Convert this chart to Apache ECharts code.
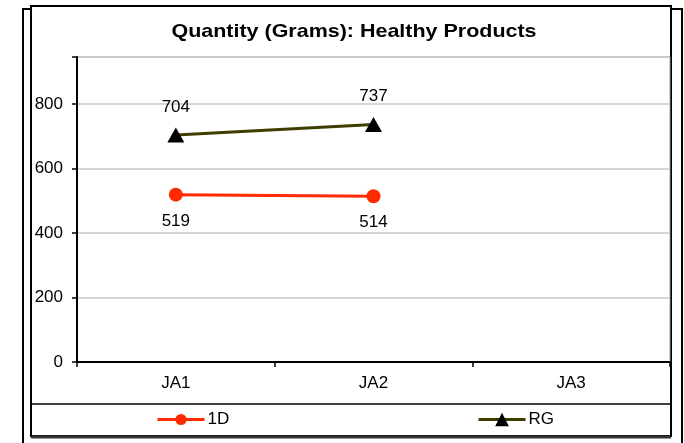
<!DOCTYPE html>
<html><head><meta charset="utf-8">
<script src="https://cdn.jsdelivr.net/npm/echarts@6/dist/echarts.min.js"></script>
<style>html,body{margin:0;padding:0;background:#fff}#c{width:684px;height:443px}</style>
</head><body><div id="c"></div>
<script>
var categories = ['JA1', 'JA2', 'JA3'];
var series1D = [519, 514, null];
var seriesRG = [704, 737, null];
var yTicks = [0, 200, 400, 600, 800];
var titleText = 'Quantity (Grams): Healthy Products';

var FONT = '"Liberation Sans", Arial, sans-serif';
var chart = echarts.init(document.getElementById('c'), null, {renderer: 'canvas'});
chart.setOption({
  animation: false,
  backgroundColor: '#fff',
  graphic: [
    {type: 'rect', z: -20, shape: {x: 23, y: 9, width: 659, height: 460}, style: {fill: '#fff', stroke: '#000', lineWidth: 2}},
    {type: 'rect', z: -10, shape: {x: 31, y: 6, width: 640, height: 430}, style: {fill: '#fff', stroke: '#000', lineWidth: 2}},
    {type: 'line', z: -5, shape: {x1: 31, y1: 404, x2: 671, y2: 404}, style: {stroke: '#000', lineWidth: 1.5}},
    {type: 'line', z: -5, shape: {x1: 31, y1: 437, x2: 671, y2: 437}, style: {stroke: '#333', lineWidth: 3}},
    {type: 'text', x: 354, y: 32, scaleX: 1.13, z: 10,
     style: {text: titleText, font: 'bold 19px "Liberation Sans", Arial, sans-serif', fill: '#000',
             textAlign: 'center', textVerticalAlign: 'middle'}}
  ],
  legend: [
    {data: ['1D'], left: 156, top: 411, padding: 0, itemWidth: 47, itemHeight: 14, itemGap: 0,
     lineStyle: {width: 3},
     textStyle: {fontFamily: FONT, fontSize: 17, color: '#000', padding: [0, 0, 0, -2]}},
    {data: ['RG'], left: 477, top: 411, padding: 0, itemWidth: 47, itemHeight: 17, itemGap: 0,
     lineStyle: {width: 3},
     textStyle: {fontFamily: FONT, fontSize: 17, color: '#000', padding: [0, 0, 0, -2]}}
  ],
  grid: {left: 77, right: 14, top: 57, bottom: 81, show: true, borderColor: '#a0a0a0', borderWidth: 1, backgroundColor: 'transparent'},
  xAxis: {
    type: 'category', data: categories, boundaryGap: true,
    axisLine: {lineStyle: {color: '#000', width: 2}},
    axisTick: {show: true, length: 5, lineStyle: {color: '#000', width: 1.5}},
    axisLabel: {fontFamily: FONT, fontSize: 17, color: '#000', margin: 13},
    splitLine: {show: false}
  },
  yAxis: {
    type: 'value', min: 0, max: 946, interval: 200,
    axisLine: {show: true, lineStyle: {color: '#000', width: 2}},
    axisTick: {show: true, length: 5, lineStyle: {color: '#000', width: 1.5}},
    axisLabel: {fontFamily: FONT, fontSize: 17, color: '#000', margin: 14,
      formatter: function (v) { return yTicks.indexOf(v) >= 0 ? String(v) : ''; }},
    splitLine: {show: true, lineStyle: {color: '#c8c8c8', width: 1.5}}
  },
  series: [
    {name: '1D', type: 'line', data: series1D, symbol: 'circle', symbolSize: 14,
     color: '#ff2a00', lineStyle: {color: '#ff2a00', width: 3}, itemStyle: {color: '#ff2a00'},
     label: {show: true, position: 'bottom', distance: 11, fontFamily: FONT, fontSize: 17, color: '#000'}},
    {name: 'RG', type: 'line', data: seriesRG, symbol: 'triangle', symbolSize: [17, 15],
     color: '#3d3d00', lineStyle: {color: '#3d3d00', width: 3}, itemStyle: {color: '#000'},
     label: {show: true, position: 'top', distance: 12, fontFamily: FONT, fontSize: 17, color: '#000'}}
  ]
});
</script></body></html>
